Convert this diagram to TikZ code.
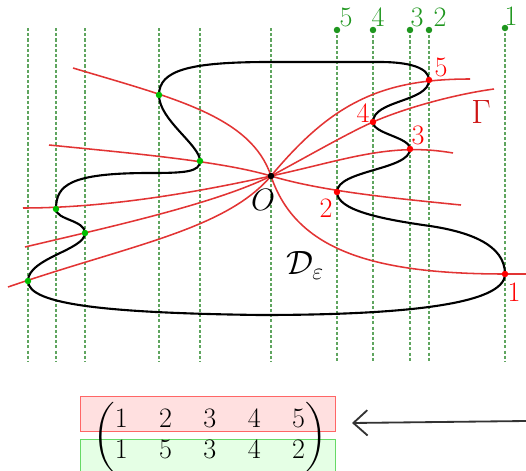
\RequirePackage{fix-cm}
\documentclass[tikz,border=0pt]{standalone}
\usepackage{amsmath}
\usepackage{fontspec}
\usetikzlibrary{arrows.meta}

\definecolor{curvered}{RGB}{226,52,52}
\definecolor{dotgreen}{RGB}{0,190,0}
\definecolor{labgreen}{RGB}{30,150,30}
\definecolor{foldgreen}{RGB}{95,165,95}
\definecolor{gammared}{RGB}{205,20,20}

\begin{document}
\begin{tikzpicture}[x=0.025cm, y=0.025cm, font=\fontsize{20}{22}\selectfont,
  foldline/.style={foldgreen, line width=0.9pt, dash pattern=on 2.2pt off 1.5pt},
  redcurve/.style={curvered, line width=1.1pt},
  bdry/.style={black, line width=1.5pt},
  reddot/.style={circle, fill=red, inner sep=0pt, minimum size=4.6pt},
  greendot/.style={circle, fill=dotgreen, inner sep=0pt, minimum size=4.6pt},
  topdot/.style={circle, fill=labgreen, inner sep=0pt, minimum size=4.6pt},
  rednum/.style={red, inner sep=0pt},
  greennum/.style={labgreen, inner sep=0pt}]
  \useasboundingbox (0,0) rectangle (526,470);

  % Points
  \coordinate (O) at (271,294);
  \coordinate (p1) at (505,196);
  \coordinate (p2) at (337,278);
  \coordinate (p3) at (410,321);
  \coordinate (p4) at (373,348);
  \coordinate (p5) at (429,390);
  \coordinate (q1) at (159,375);
  \coordinate (q2) at (200,309);
  \coordinate (q3) at (56,261);
  \coordinate (q4) at (85,237);
  \coordinate (q5) at (28,189);

  % Fold lines
  \draw[foldline] (28,442) -- (28,108);
  \draw[foldline] (56,442) -- (56,108);
  \draw[foldline] (85,442) -- (85,108);
  \draw[foldline] (159,442) -- (159,108);
  \draw[foldline] (200,442) -- (200,108);
  \draw[foldline] (271,442) -- (271,108);
  \draw[foldline] (337,440) -- (337,108);
  \draw[foldline] (373,440) -- (373,108);
  \draw[foldline] (410,440) -- (410,108);
  \draw[foldline] (429,440) -- (429,108);
  \draw[foldline] (505,442) -- (505,108);

  % Curves of Gamma
  \draw[redcurve] (73,402) .. controls (173,372) and (251,354) .. (O)
    .. controls (296,219) and (375,196) .. (p1) -- (526,196);
  \draw[redcurve] (49,325) .. controls (129,317) and (221,309) .. (O)
    .. controls (321,279) and (391,272) .. (461,265);
  \draw[redcurve] (23,262) .. controls (120,262) and (220,283) .. (O)
    .. controls (345,310) and (390,328) .. (453,317);
  \draw[redcurve] (25,223) .. controls (105,242) and (215,266) .. (O)
    .. controls (310,315) and (350,338) .. (p4)
    .. controls (400,360) and (450,375) .. (494,381);
  \draw[redcurve] (8,183) .. controls (130,225) and (225,240) .. (O)
    .. controls (331,366) and (380,391) .. (470,391);

  % Boundary of D_eps
  \draw[bdry] (p1) .. controls (505,225) and (470,238) .. (430,244)
    .. controls (380,251) and (337,260) .. (p2)
    .. controls (337,300) and (410,300) .. (p3)
    .. controls (410,333) and (373,336) .. (p4)
    .. controls (373,370) and (429,368) .. (p5)
    .. controls (429,402) and (410,408) .. (380,408) -- (270,408)
    .. controls (190,408) and (159,400) .. (q1)
    .. controls (159,350) and (200,325) .. (q2)
    .. controls (200,298) and (185,297) .. (150,297)
    .. controls (70,297) and (56,285) .. (q3)
    .. controls (56,250) and (85,250) .. (q4)
    .. controls (85,220) and (28,212) .. (q5)
    .. controls (28,165) and (110,157) .. (260,155)
    .. controls (400,155) and (505,165) .. cycle;

  % Dots
  \node[circle, fill=black, inner sep=0pt, minimum size=4.6pt] (odot) at (O) {};
  \node[reddot] (dot1) at (p1) {};
  \node[reddot] (dot2) at (p2) {};
  \node[reddot] (dot3) at (p3) {};
  \node[reddot] (dot4) at (p4) {};
  \node[reddot] (dot5) at (p5) {};
  \node[greendot] (gdot1) at (q1) {};
  \node[greendot] (gdot2) at (q2) {};
  \node[greendot] (gdot3) at (q3) {};
  \node[greendot] (gdot4) at (q4) {};
  \node[greendot] (gdot5) at (q5) {};
  \node[topdot] (top5) at (337,440) {};
  \node[topdot] (top4) at (373,440) {};
  \node[topdot] (top3) at (410,440) {};
  \node[topdot] (top2) at (429,440) {};
  \node[topdot] (top1) at (505,442) {};

  % Labels
  \node[greennum] (toplab5) at (346,453) {5};
  \node[greennum] (toplab4) at (378,453) {4};
  \node[greennum] (toplab3) at (417,453) {3};
  \node[greennum] (toplab2) at (440,453) {2};
  \node[greennum] (toplab1) at (511,454) {1};
  \node[rednum] (lab1) at (514,178) {1};
  \node[rednum] (lab2) at (326,262) {2};
  \node[rednum] (lab3) at (418,335) {3};
  \node[rednum] (lab4) at (363,357) {4};
  \node[rednum] (lab5) at (441,403) {5};
  \node[gammared, inner sep=0pt, font=\fontsize{24}{28}\selectfont] (gamma) at (481,358) {$\Gamma$};
  \node[inner sep=0pt, font=\fontsize{22}{26}\selectfont] (olab) at (263,270) {$O$};
  \node[inner sep=0pt, font=\fontsize{24}{28}\selectfont] (dlab) at (305,205) {$\mathcal{D}_\varepsilon$};

  % Permutation
  \node[draw=red!60, fill=red!12, line width=0.6pt, minimum width=6.375cm, minimum height=0.875cm] (toprow) at (207.5,56.5) {};
  \node[draw=green!75!black!60, fill=green!10, line width=0.6pt, minimum width=6.375cm, minimum height=0.95cm] (botrow) at (207.5,12) {};
  \node (perm) at (210,33) {$\arraycolsep=11.2pt\renewcommand{\arraystretch}{1.0}\begin{pmatrix}1&2&3&4&5\\1&5&3&4&2\end{pmatrix}$};
  \coordinate (arrowtail) at (526,49);
  \coordinate (arrowhead) at (352,47);
  \draw[-{Straight Barb[length=10pt,width=18pt]}, line width=1.3pt, black!80] (arrowtail) -- (arrowhead);
\end{tikzpicture}
\end{document}
